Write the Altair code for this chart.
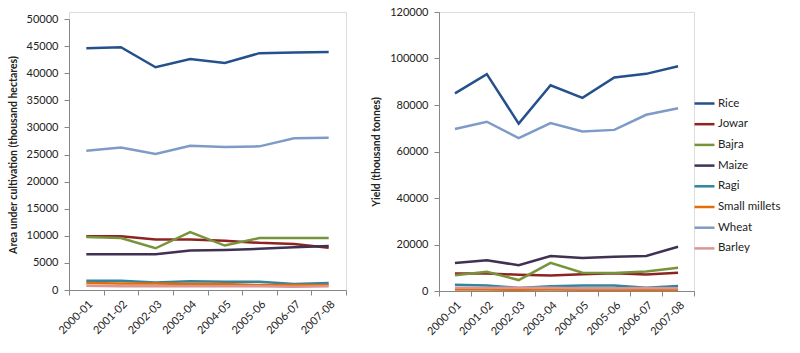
import altair as alt
import pandas as pd

years = ["2000-01", "2001-02", "2002-03", "2003-04", "2004-05", "2005-06", "2006-07", "2007-08"]
crops = ["Rice", "Jowar", "Bajra", "Maize", "Ragi", "Small millets", "Wheat", "Barley"]
colors = ["#24508C", "#8E2421", "#77933C", "#403152", "#31859C", "#E46C0A", "#7E9BC8", "#D99694"]

# Area under cultivation (thousand hectares)
area_rice = [44600, 44800, 41100, 42600, 41900, 43700, 43800, 43900]
area_jowar = [9900, 9900, 9300, 9300, 9100, 8700, 8500, 7800]
area_bajra = [9800, 9600, 7700, 10700, 8200, 9600, 9600, 9600]
area_maize = [6600, 6600, 6600, 7300, 7400, 7600, 7900, 8100]
area_ragi = [1700, 1700, 1400, 1600, 1500, 1500, 1100, 1300]
area_small = [1300, 1200, 1200, 1100, 1100, 900, 900, 900]
area_wheat = [25700, 26300, 25100, 26600, 26400, 26500, 28000, 28100]
area_barley = [800, 700, 700, 700, 700, 700, 600, 700]

# Yield (thousand tonnes)
yield_rice = [85000, 93300, 72000, 88500, 83100, 91800, 93400, 96700]
yield_jowar = [7500, 7500, 7000, 6700, 7200, 7600, 7100, 7800]
yield_bajra = [6800, 8300, 4700, 12100, 7900, 7700, 8400, 10000]
yield_maize = [12000, 13200, 11100, 15000, 14200, 14700, 15100, 19000]
yield_ragi = [2700, 2400, 1300, 2000, 2400, 2400, 1400, 2100]
yield_small = [600, 600, 500, 600, 500, 500, 500, 500]
yield_wheat = [69700, 72800, 65800, 72200, 68600, 69300, 75800, 78600]
yield_barley = [1400, 1400, 1400, 1400, 1200, 1200, 1300, 1200]

area_series = [area_rice, area_jowar, area_bajra, area_maize, area_ragi, area_small, area_wheat, area_barley]
yield_series = [yield_rice, yield_jowar, yield_bajra, yield_maize, yield_ragi, yield_small, yield_wheat, yield_barley]

rows = []
for crop, a_vals, y_vals in zip(crops, area_series, yield_series):
    for yr, a, y in zip(years, a_vals, y_vals):
        rows.append({"Year": yr, "Crop": crop, "Area": a, "Yield": y, "ord": crops.index(crop)})
df = pd.DataFrame(rows)

FONT = "Lato"

color = alt.Color(
    "Crop:N",
    sort=crops,
    scale=alt.Scale(domain=crops, range=colors),
    legend=alt.Legend(
        title=None,
        orient="none",
        legendX=624,
        legendY=80,
        symbolType="stroke",
        symbolSize=400,
        symbolStrokeWidth=2.5,
        labelFontSize=11.5,
        labelFont=FONT,
        labelColor="#222222",
        labelOffset=2,
        rowPadding=3.7,
    ),
)

xenc = alt.X(
    "Year:O",
    sort=years,
    bandPosition=0.5,
    scale=alt.Scale(type="band", paddingInner=0, paddingOuter=0),
    axis=alt.Axis(
        title=None,
        tickBand="extent",
        labelAngle=-45,
        labelFontSize=11,
        labelFont=FONT,
        labelColor="#222222",
        tickSize=5,
        labelPadding=3,
        domainColor="#868686",
        tickColor="#868686",
    ),
)

def yaxis(title, values):
    return alt.Axis(
        title=title,
        values=values,
        format="d",
        grid=False,
        labelFontSize=11,
        labelFont=FONT,
        labelColor="#222222",
        titleFont=FONT,
        titleFontSize=10.5,
        titleFontWeight="bold",
        titleColor="#222222",
        tickSize=5,
        labelPadding=6,
        titlePadding=8,
        domainColor="#868686",
        tickColor="#868686",
    )

left = alt.Chart(df).mark_line(strokeWidth=2.5).encode(
    x=xenc,
    y=alt.Y(
        "Area:Q",
        scale=alt.Scale(domain=[0, 50000], range=[278, 7]),
        axis=yaxis("Area under cultivation (thousand hectares)", list(range(0, 50001, 5000))),
    ),
    color=color,
    order=alt.Order("ord:Q"),
).properties(width=277, height=278)

right = alt.Chart(df).mark_line(strokeWidth=2.5).encode(
    x=xenc,
    y=alt.Y(
        "Yield:Q",
        scale=alt.Scale(domain=[0, 120000]),
        axis=yaxis("Yield (thousand tonnes)", list(range(0, 120001, 20000))),
    ),
    color=color,
).properties(width=255, height=279)

chart = alt.hconcat(left, right, spacing=24).configure_view(stroke=None).configure(
    background="white", padding={"left": 7, "top": 5, "right": 5, "bottom": 5}
)

chart.save("out.html", embed_options={"renderer": "svg", "actions": False})
